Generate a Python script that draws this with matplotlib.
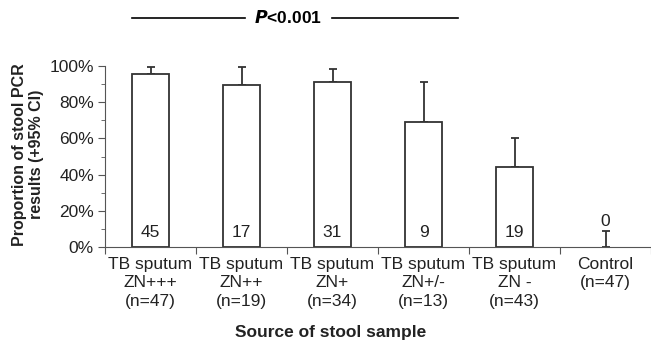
import numpy as np
import matplotlib
matplotlib.use("Agg")
import matplotlib.pyplot as plt
from matplotlib.lines import Line2D
from matplotlib.ticker import MultipleLocator, PercentFormatter

# data
groups = ["TB sputum\nZN+++\n(n=47)", "TB sputum\nZN++\n(n=19)", "TB sputum\nZN+\n(n=34)",
          "TB sputum\nZN+/-\n(n=13)", "TB sputum\nZN -\n(n=43)", "Control\n(n=47)"]
positives = [45, 17, 31, 9, 19, 0]
proportion = [95.7, 89.5, 91.2, 69.2, 44.2, 0.0]
upper_ci = [99.3, 99.3, 98.3, 91.1, 60.3, 8.9]

plt.rcParams['font.family'] = ['Liberation Sans', 'DejaVu Sans']

fig = plt.figure(figsize=(6.51, 3.41), dpi=100)
ax = fig.add_axes([105 / 651, 1 - 247 / 341, 546 / 651, 181 / 341])

x = np.arange(len(groups))
err_up = [u - p for u, p in zip(upper_ci, proportion)]
edge = ["#333333" if p > 0 else "none" for p in proportion]
ax.bar(x, proportion, width=0.41, color="white", edgecolor=edge, linewidth=1.3, zorder=2)
ax.errorbar(x, proportion, yerr=[np.zeros(len(x)), err_up], fmt="none",
            ecolor="#333333", elinewidth=1.3, capsize=3, capthick=1.3, zorder=1)

# counts inside the bars
for xi, c, p in zip(x, positives, proportion):
    ypos = 8 if p > 0 else 14
    ax.text(xi, ypos, str(c), ha="center", va="center", fontsize=12.5, color="#222222")

ax.set_xlim(-0.5, len(groups) - 0.5)
ax.set_ylim(0, 100)
ax.yaxis.set_major_locator(MultipleLocator(20))
ax.yaxis.set_minor_locator(MultipleLocator(10))
ax.yaxis.set_major_formatter(PercentFormatter(decimals=0))

# x ticks sit between categories, labels are centred on the bars
ax.set_xticks(np.arange(-0.5, len(groups), 1.0))
ax.set_xticklabels([])
ax.set_xticks(x, minor=True)
ax.set_xticklabels(groups, minor=True, fontsize=12.5, color="#222222", linespacing=1.3)
ax.tick_params(axis="x", which="minor", length=0, pad=7)
ax.tick_params(axis="x", which="major", length=5, color="#555555")
ax.tick_params(axis="y", which="major", length=5, labelsize=12.5, labelcolor="#222222",
               color="#555555", pad=3)
ax.tick_params(axis="y", which="minor", length=3, color="#555555")

for s in ["top", "right"]:
    ax.spines[s].set_visible(False)
for s in ["left", "bottom"]:
    ax.spines[s].set_color("#555555")

ax.set_ylabel("Proportion of stool PCR\nresults (+95% CI)", fontsize=11.5, fontweight="bold",
              color="#222222", linespacing=1.15)
ax.yaxis.label.set_va("center")
ax.yaxis.set_label_coords(-(105 - 28) / 546, 0.51)
ax.set_xlabel("Source of stool sample", fontsize=12.5, fontweight="bold", color="#222222")
ax.xaxis.label.set_va("center")
ax.xaxis.set_label_coords((331 - 105) / 546, -(332 - 247) / 181)

# significance line across the top
yl = 1 - 17.5 / 341
fig.add_artist(Line2D([132 / 651, 245 / 651], [yl, yl], color="black", linewidth=1.2))
fig.add_artist(Line2D([332 / 651, 458 / 651], [yl, yl], color="black", linewidth=1.2))
fig.text(288 / 651, yl, r"$\bfit{P}$" + "<0.001", ha="center", va="center",
         fontsize=12.5, fontweight="bold")

fig.savefig("out.png", dpi=100)
